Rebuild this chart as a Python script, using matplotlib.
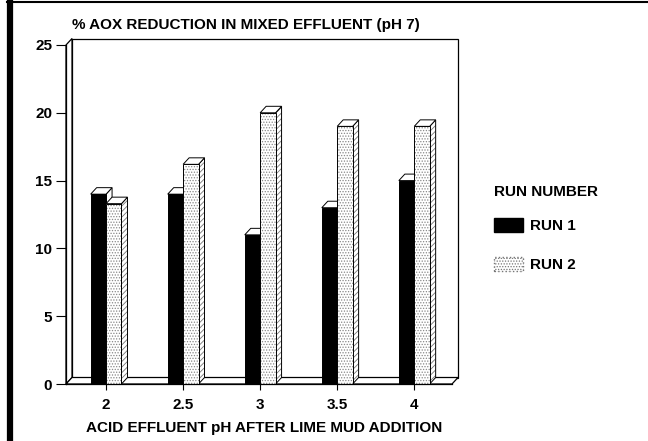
import numpy as np
import matplotlib
matplotlib.use("Agg")
import matplotlib.pyplot as plt
from matplotlib.patches import Polygon, Patch, Rectangle
from matplotlib.lines import Line2D

plt.rcParams['font.family'] = ['Liberation Sans', 'DejaVu Sans']
plt.rcParams['font.weight'] = 'bold'
plt.rcParams['hatch.linewidth'] = 0.6

# data
ph_labels = ["2", "2.5", "3", "3.5", "4"]
run1 = [14.0, 14.0, 11.0, 13.0, 15.0]
run2 = [13.3, 16.2, 20.0, 19.0, 19.0]
series_names = ["RUN 1", "RUN 2"]

title = "% AOX REDUCTION IN MIXED EFFLUENT (pH 7)"
xlabel = "ACID EFFLUENT pH AFTER LIME MUD ADDITION"
legend_title = "RUN NUMBER"

FS = 11
W, H = 648, 441
fig = plt.figure(figsize=(W / 100, H / 100), dpi=100)
ax = fig.add_axes([66 / W, 1 - 384 / H, (452 - 66) / W, (384 - 45) / H])
ax.set_facecolor('none')

x = np.arange(len(ph_labels))
bw = 0.2
xlim = (-0.52, 4.49)
ylim = (0, 25)
ax.set_xlim(*xlim)
ax.set_ylim(*ylim)

# 3d depth in pixels -> data units
depth_px = (6, 6.5)
ddx = depth_px[0] * (xlim[1] - xlim[0]) / ax.bbox.width
ddy = depth_px[1] * (ylim[1] - ylim[0]) / ax.bbox.height

lw = 0.9
# back wall, left wall, floor
ax.add_patch(Rectangle((xlim[0] + ddx, ylim[0] + ddy), xlim[1] - xlim[0], ylim[1] - ylim[0],
                       facecolor='white', edgecolor='black', lw=lw, zorder=0.5, clip_on=False))
ax.add_patch(Polygon([(xlim[0], 0), (xlim[0] + ddx, ddy), (xlim[0] + ddx, ylim[1] + ddy), (xlim[0], ylim[1])],
                     closed=True, facecolor='white', edgecolor='black', lw=lw, zorder=0.6, clip_on=False))
ax.add_patch(Polygon([(xlim[0], 0), (xlim[1], 0), (xlim[1] + ddx, ddy), (xlim[0] + ddx, ddy)],
                     closed=True, facecolor='white', edgecolor='black', lw=lw, zorder=0.6, clip_on=False))


def box3d(x0, h, hatch_side, z):
    x1 = x0 + bw
    side = [(x1, 0), (x1 + ddx, ddy), (x1 + ddx, h + ddy), (x1, h)]
    ax.add_patch(Polygon(side, closed=True, facecolor='white', edgecolor='#777777',
                         hatch=hatch_side, lw=0, zorder=z))
    ax.add_patch(Polygon(side, closed=True, fill=False, edgecolor='black', lw=0.7, zorder=z))
    top = [(x0, h), (x1, h), (x1 + ddx, h + ddy), (x0 + ddx, h + ddy)]
    ax.add_patch(Polygon(top, closed=True, facecolor='white', edgecolor='black', lw=0.7, zorder=z))


for i in range(len(x)):
    z = 2 + i
    box3d(x[i] - bw, run1[i], None, z)
    ax.bar(x[i] - bw, run1[i], width=bw, align='edge', color='black', edgecolor='black', lw=0.7, zorder=z)
    box3d(x[i], run2[i], '//////', z + 0.5)
    ax.bar(x[i], run2[i], width=bw, align='edge', color='white', edgecolor='#888888',
           hatch='......', lw=0, zorder=z + 0.5)
    ax.bar(x[i], run2[i], width=bw, align='edge', fill=False, edgecolor='black', lw=0.7, zorder=z + 0.5)

for s in ['top', 'right']:
    ax.spines[s].set_visible(False)
for s in ['left', 'bottom']:
    ax.spines[s].set_linewidth(lw)
    ax.spines[s].set_zorder(20)

ax.set_xticks(x)
ax.set_xticklabels(ph_labels)
ax.set_yticks(np.arange(0, 26, 5))
ax.tick_params(axis='y', length=7, width=0.8, labelsize=FS, pad=3)
ax.tick_params(axis='x', length=4, width=0.8, labelsize=FS, pad=6)

fig.text(72 / W, 1 - 25 / H, title, ha='left', va='center', fontsize=FS, fontweight='bold')
fig.text(264 / W, 1 - 428 / H, xlabel, ha='center', va='center', fontsize=FS, fontweight='bold')

handles = [Patch(facecolor='black', edgecolor='black', label=series_names[0]),
           Patch(facecolor='white', edgecolor='#777777', hatch='......', linestyle=':', label=series_names[1])]
leg = fig.legend(handles=handles, title=legend_title, loc='upper left',
                 bbox_to_anchor=(480 / W, 1 - 171 / H), frameon=False,
                 fontsize=FS, title_fontsize=FS, handlelength=1.9, handleheight=1.0,
                 handletextpad=0.45, labelspacing=1.55, alignment='left')
leg.get_title().set_fontweight('bold')
leg._legend_box.sep = 14

# page frame (scan border)
fig.add_artist(Line2D([9.5 / W, 9.5 / W], [0, 1 - 2 / H], color='black', lw=4.5))
fig.add_artist(Line2D([7 / W, 1], [1 - 2 / H, 1 - 2 / H], color='black', lw=1.5))

fig.savefig("out.png", dpi=100)
